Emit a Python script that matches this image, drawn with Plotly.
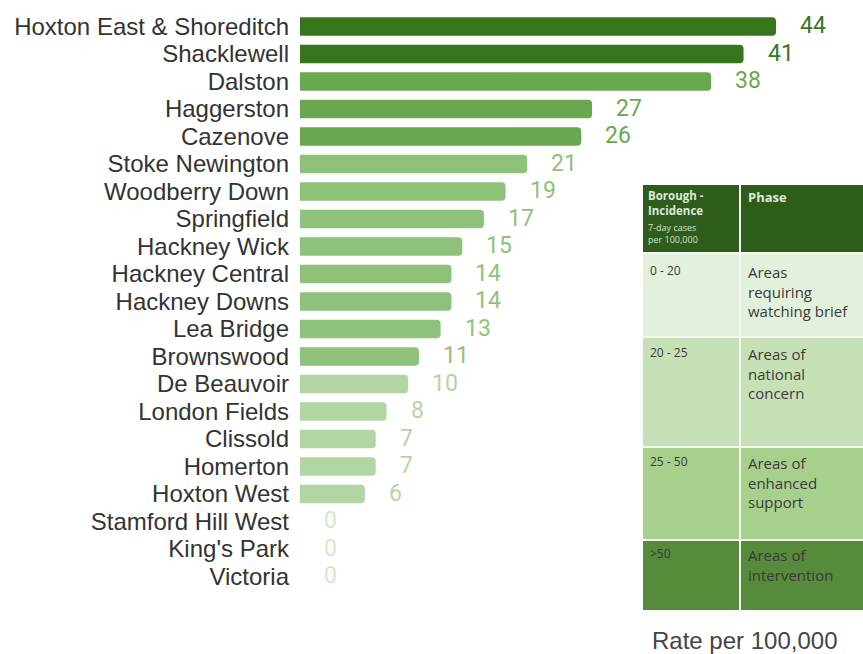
import plotly.graph_objects as go

wards = ["Hoxton East & Shoreditch", "Shacklewell", "Dalston", "Haggerston", "Cazenove",
         "Stoke Newington", "Woodberry Down", "Springfield", "Hackney Wick", "Hackney Central",
         "Hackney Downs", "Lea Bridge", "Brownswood", "De Beauvoir", "London Fields",
         "Clissold", "Homerton", "Hoxton West", "Stamford Hill West", "King's Park", "Victoria"]
rates = [44, 41, 38, 27, 26, 21, 19, 17, 15, 14, 14, 13, 11, 10, 8, 7, 7, 6, 0, 0, 0]

band_ranges = ["0 - 20", "20 - 25", "25 - 50", ">50"]
band_phases = ["Areas<br>requiring<br>watching brief", "Areas of<br>national<br>concern",
               "Areas of<br>enhanced<br>support", "Areas of<br>intervention"]


def bar_colour(v):
    if v >= 40:
        return "#38761d"
    if v >= 25:
        return "#6aa84f"
    if v >= 11:
        return "#8ec27a"
    if v > 0:
        return "#b2d6a3"
    return "#d5e8cc"


colours = [bar_colour(v) for v in rates]

W, H = 863, 654
ML, MR, MT, MB = 300, 0, 12, 61

fig = go.Figure()
fig.add_trace(go.Bar(
    x=rates, y=wards, orientation="h",
    marker=dict(color=colours, cornerradius=4, line=dict(width=0)),
    width=0.68, hoverinfo="x+y",
))

for w, v, c in zip(wards, rates, colours):
    fig.add_annotation(x=v, y=w, xref="x", yref="y", text=str(v), showarrow=False,
                       xanchor="left", xshift=22, yshift=1,
                       font=dict(family="Roboto", size=23, color=c))

pw = W - ML - MR
ph = H - MT - MB


def px(x):
    return (x - ML) / pw


def py(y):
    return (H - MB - y) / ph


shapes = []
rows = [(185, 253, "#2e5c1b"), (253, 337, "#e3f0dc"), (337, 447, "#c7e1b6"),
        (447, 540, "#a8d08d"), (540, 610, "#578b3c")]
for y0, y1, col in rows:
    shapes.append(dict(type="rect", xref="paper", yref="paper", x0=px(643), x1=px(863),
                       y0=py(y1), y1=py(y0), fillcolor=col, line=dict(width=0), layer="above"))
shapes.append(dict(type="line", xref="paper", yref="paper", x0=px(740), x1=px(740),
                   y0=py(610), y1=py(185), line=dict(color="#f4f8f2", width=2), layer="above"))
for y in [253, 337, 447, 540]:
    shapes.append(dict(type="line", xref="paper", yref="paper", x0=px(643), x1=px(863),
                       y0=py(y), y1=py(y), line=dict(color="#f4f8f2", width=2), layer="above"))

tf = "Open Sans"
fig.add_annotation(xref="paper", yref="paper", x=px(647), y=py(187), xanchor="left",
                   yanchor="top", text="<b>Borough -<br>Incidence</b>", showarrow=False,
                   align="left", borderpad=0,
                   font=dict(family=tf, size=11.5, color="#dfe9da"))
fig.add_annotation(xref="paper", yref="paper", x=px(647), y=py(220), xanchor="left",
                   yanchor="top", text="7-day cases<br>per 100,000", showarrow=False,
                   align="left", borderpad=0,
                   font=dict(family=tf, size=9, color="#d3e2cb"))
fig.add_annotation(xref="paper", yref="paper", x=px(746), y=py(197), xanchor="left",
                   yanchor="middle", text="<b>Phase</b>", showarrow=False, align="left",
                   font=dict(family=tf, size=13, color="#dfe9da"))

row_tops = [260, 342, 451, 543]
for top, rng, phase in zip(row_tops, band_ranges, band_phases):
    fig.add_annotation(xref="paper", yref="paper", x=px(648), y=py(top), xanchor="left", yanchor="top",
                       text=rng, showarrow=False, align="left",
                       font=dict(family=tf, size=12, color="#3a3a3a"))
    fig.add_annotation(xref="paper", yref="paper", x=px(746), y=py(top), xanchor="left", yanchor="top",
                       text=phase, showarrow=False, align="left",
                       font=dict(family=tf, size=15, color="#3a3a3a"))

fig.add_annotation(xref="paper", yref="paper", x=px(744), y=py(640), xanchor="center", yanchor="middle",
                   text="Rate per 100,000", showarrow=False,
                   font=dict(family="Liberation Sans", size=24, color="#444444"))

fig.update_layout(
    width=W, height=H,
    margin=dict(l=ML, r=MR, t=MT, b=MB),
    paper_bgcolor="white", plot_bgcolor="white",
    showlegend=False, shapes=shapes,
    xaxis=dict(range=[0, 52.04], visible=False, fixedrange=True),
    yaxis=dict(categoryorder="array", categoryarray=wards, autorange="reversed",
               tickmode="array", tickvals=wards, ticktext=wards,
               showgrid=False, zeroline=False, showline=False, ticks="",
               ticklabelstandoff=10,
               tickfont=dict(family="Liberation Sans", size=24, color="#333333")),
)

fig.write_html("out.html")
